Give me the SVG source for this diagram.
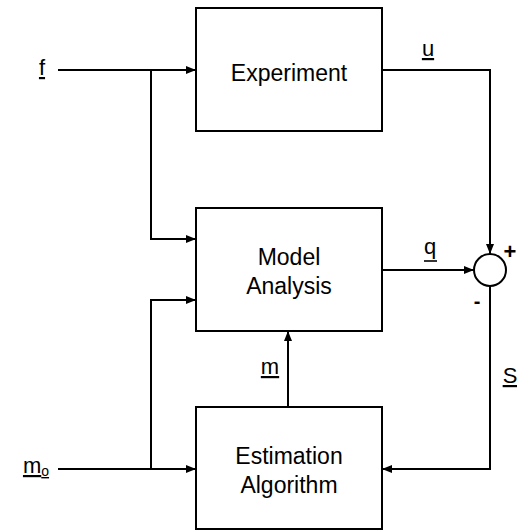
<svg xmlns="http://www.w3.org/2000/svg" width="517" height="532" viewBox="0 0 517 532">
<defs>
<marker id="ah" viewBox="0 0 10 8" refX="10" refY="4" markerWidth="10" markerHeight="8" markerUnits="userSpaceOnUse" orient="auto">
<path d="M0,0 L10,4 L0,8 Z" fill="#000"/>
</marker>
<style>
.box{fill:#fff;stroke:#000;stroke-width:2}
.ln{fill:none;stroke:#000;stroke-width:2}
.t{font-family:"Liberation Sans",Arial,sans-serif;font-size:23px;fill:#000;text-anchor:middle}
.lab{font-family:"Liberation Sans",Arial,sans-serif;font-size:22px;fill:#000;text-anchor:middle;text-decoration:underline;text-decoration-skip-ink:none}
.sg{font-family:"Liberation Sans",Arial,sans-serif;font-weight:bold;fill:#000;text-anchor:middle}
</style>
</defs>
<rect width="517" height="532" fill="#fff"/>
<g id="connectors">
<path class="ln" d="M58,70 H196" marker-end="url(#ah)"/>
<path class="ln" d="M151,70 V239 H196" marker-end="url(#ah)"/>
<path class="ln" d="M58,469 H196" marker-end="url(#ah)"/>
<path class="ln" d="M151,469 V300 H196" marker-end="url(#ah)"/>
<path class="ln" d="M382,70 H490 V254" marker-end="url(#ah)"/>
<path class="ln" d="M382,270 H474" marker-end="url(#ah)"/>
<path class="ln" d="M490,286 V469 H382" marker-end="url(#ah)"/>
<path class="ln" d="M288,407 V331" marker-end="url(#ah)"/>
</g>
<g id="experiment">
<rect class="box" x="196" y="8" width="186" height="123"/>
<text class="t" x="289" y="81">Experiment</text>
</g>
<g id="model-analysis">
<rect class="box" x="196" y="208" width="186" height="123"/>
<text class="t" x="289" y="265">Model</text>
<text class="t" x="289" y="294">Analysis</text>
</g>
<g id="estimation-algorithm">
<rect class="box" x="196" y="407" width="186" height="122"/>
<text class="t" x="289" y="464">Estimation</text>
<text class="t" x="289" y="493">Algorithm</text>
</g>
<g id="summing-junction">
<circle cx="490" cy="270" r="16" fill="#fff" stroke="#000" stroke-width="2"/>
<text class="sg" x="510" y="259" font-size="22">+</text>
<text class="sg" x="477" y="308" font-size="20">-</text>
</g>
<g id="labels">
<text class="lab" x="42" y="75">f</text>
<text class="lab" x="428" y="56">u</text>
<text x="430" y="254" font-family="Liberation Sans, Arial, sans-serif" font-size="22" text-anchor="middle">q</text>
<line x1="424" y1="261" x2="437" y2="261" stroke="#000" stroke-width="1.6"/>
<text class="lab" x="270" y="374">m</text>
<text class="lab" x="510" y="383">S</text>
<text class="lab" x="36" y="473">m<tspan font-size="14" dy="3">o</tspan></text>
</g>
</svg>
